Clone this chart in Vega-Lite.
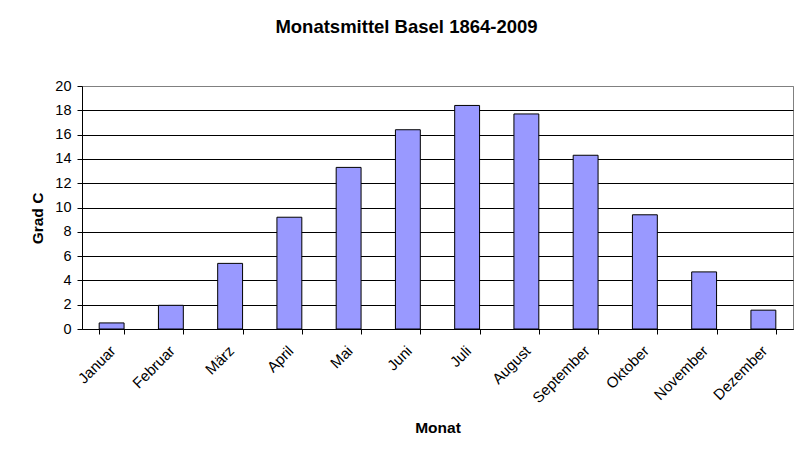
{
  "$schema": "https://vega.github.io/schema/vega-lite/v6.json",
  "autosize": {"type": "none"},
  "padding": {"left": 82, "top": 86, "right": 1, "bottom": 121},
  "width": 711,
  "height": 243,
  "background": "white",
  "title": {
    "text": "Monatsmittel Basel 1864-2009",
    "font": "Liberation Sans",
    "fontSize": 18.5,
    "fontWeight": "bold",
    "color": "black",
    "anchor": "middle",
    "dx": -31,
    "offset": 42
  },
  "config": {
    "view": {"stroke": "#808080", "strokeWidth": 1},
    "axis": {
      "labelFont": "Liberation Sans",
      "titleFont": "Liberation Sans",
      "labelColor": "black",
      "titleColor": "black",
      "domainColor": "black",
      "tickColor": "black",
      "labelFontSize": 14.5,
      "titleFontSize": 15.5,
      "titleFontWeight": "bold"
    }
  },
  "data": {
    "values": [
      {"Monat": "Januar", "Grad": 0.5},
      {"Monat": "Februar", "Grad": 1.95},
      {"Monat": "März", "Grad": 5.4},
      {"Monat": "April", "Grad": 9.2},
      {"Monat": "Mai", "Grad": 13.3},
      {"Monat": "Juni", "Grad": 16.4},
      {"Monat": "Juli", "Grad": 18.4},
      {"Monat": "August", "Grad": 17.7},
      {"Monat": "September", "Grad": 14.3},
      {"Monat": "Oktober", "Grad": 9.4},
      {"Monat": "November", "Grad": 4.7},
      {"Monat": "Dezember", "Grad": 1.55}
    ]
  },
  "mark": {"type": "bar", "fill": "#9999FF", "stroke": "black", "strokeWidth": 1},
  "encoding": {
    "x": {
      "field": "Monat",
      "type": "nominal",
      "sort": null,
      "scale": {"paddingInner": 0.58, "paddingOuter": 0.29},
      "axis": {
        "title": "Monat",
        "labelAngle": -45,
        "labelAlign": "right",
        "labelBaseline": "middle",
        "labelPadding": 14,
        "labelOffset": 1,
        "labelFontSize": 15,
        "tickBand": "extent",
        "tickSize": 5,
        "grid": false,
        "titleY": 103,
        "titleBaseline": "alphabetic"
      }
    },
    "y": {
      "field": "Grad",
      "type": "quantitative",
      "scale": {"domain": [0, 20], "nice": false},
      "axis": {
        "title": "Grad C",
        "values": [0, 2, 4, 6, 8, 10, 12, 14, 16, 18, 20],
        "tickSize": 5,
        "labelPadding": 6,
        "grid": true,
        "gridColor": {"condition": {"test": "datum.value == 20", "value": "#808080"}, "value": "black"},
        "gridOpacity": 1,
        "gridWidth": 1,
        "titleX": -45,
        "titleY": 132,
        "titleAngle": -90,
        "titleAlign": "center",
        "titleBaseline": "middle"
      }
    }
  }
}
